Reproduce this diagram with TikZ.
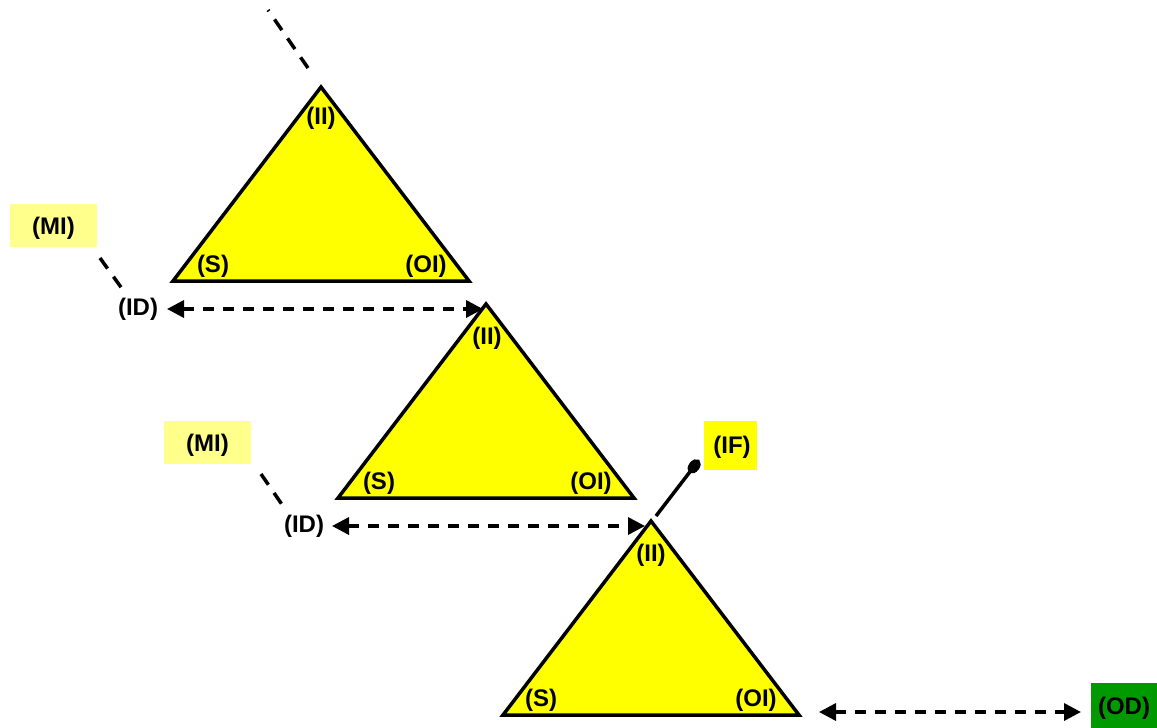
\documentclass[tikz,border=0pt]{standalone}
\usepackage{fontspec}
\setmainfont{Liberation Sans}
\usetikzlibrary{arrows.meta}
\definecolor{triyellow}{RGB}{255,255,0}
\definecolor{miyellow}{RGB}{255,255,140}
\definecolor{odgreen}{RGB}{0,153,0}
\begin{document}
\begin{tikzpicture}[x=1pt,y=-1pt,
  lbl/.style={font=\fontsize{24}{27}\selectfont\bfseries, inner sep=0pt},
  tri/.style={draw=black, fill=triyellow, line width=3.5pt, line join=miter},
  boxtext/.style={lbl, text depth=0pt, yshift=-2pt},
  dashline/.style={draw=black, line width=3.5pt, dash pattern=on 13pt off 10pt},
  idarrow/.style={draw=black, line width=3.5pt, dash pattern=on 11pt off 9pt,
    {Triangle[length=17pt,width=17pt]}-{Triangle[length=17pt,width=17pt]}}
]
\useasboundingbox (0,0) rectangle (1157,728);

% triangles
\foreach \i/\dx/\dy in {1/0/0,2/165/217,3/330/434}{
  \coordinate (t\i a) at (321+\dx,87+\dy);
  \coordinate (t\i l) at (173+\dx,281+\dy);
  \coordinate (t\i r) at (469+\dx,281+\dy);
  \path[tri] (t\i a) -- (t\i l) -- (t\i r) -- cycle;
}
\node[lbl] (ii1) at (321,118) {(II)};
\node[lbl] (s1)  at (213,266) {(S)};
\node[lbl] (oi1) at (426,266) {(OI)};
\node[lbl] (ii2) at (487,338) {(II)};
\node[lbl] (s2)  at (379,483) {(S)};
\node[lbl] (oi2) at (591,483) {(OI)};
\node[lbl] (ii3) at (651,555) {(II)};
\node[lbl] (s3)  at (541,700) {(S)};
\node[lbl] (oi3) at (756,700) {(OI)};

% top dashed line
\coordinate (top0) at (268,10);
\coordinate (top1) at (308,68);
\draw[dashline] (top1) -- (top0);

% MI boxes and ID labels
\path[fill=miyellow] (10,204) rectangle (97,247);
\path[fill=miyellow] (164,421) rectangle (251,464);
\node[lbl] (mi1) at (53.5,228) {(MI)};
\node[lbl] (mi2) at (207.5,445) {(MI)};
\node[lbl] (id1) at (138,309) {(ID)};
\node[lbl] (id2) at (304,526) {(ID)};

\coordinate (m1a) at (100,258);
\coordinate (m1b) at (123,290);
\coordinate (m2a) at (261,474);
\coordinate (m2b) at (283,506);
\draw[dashline] (m1a) -- (m1b);
\draw[dashline] (m2a) -- (m2b);

% ID arrows
\coordinate (a1s) at (167,309);
\coordinate (a1e) at (483,309);
\coordinate (a2s) at (332,526);
\coordinate (a2e) at (645,526);
\draw[idarrow] (a1s) -- (a1e);
\draw[idarrow] (a2s) -- (a2e);

% IF
\path[fill=triyellow] (704,421) rectangle (757,470);
\node[lbl] (if) at (732,447) {(IF)};
\coordinate (ifs) at (656,516);
\coordinate (ife) at (699,460);
\draw[line width=3.5pt, -{Ellipse[length=16pt,width=11pt]}] (ifs) -- (ife);

% OD
\path[fill=odgreen] (1091,683) rectangle (1157,728);
\node[lbl] (od) at (1124,708) {(OD)};
\coordinate (o1s) at (819,712);
\coordinate (o1e) at (1081,712);
\draw[idarrow] (o1s) -- (o1e);
\end{tikzpicture}
\end{document}
